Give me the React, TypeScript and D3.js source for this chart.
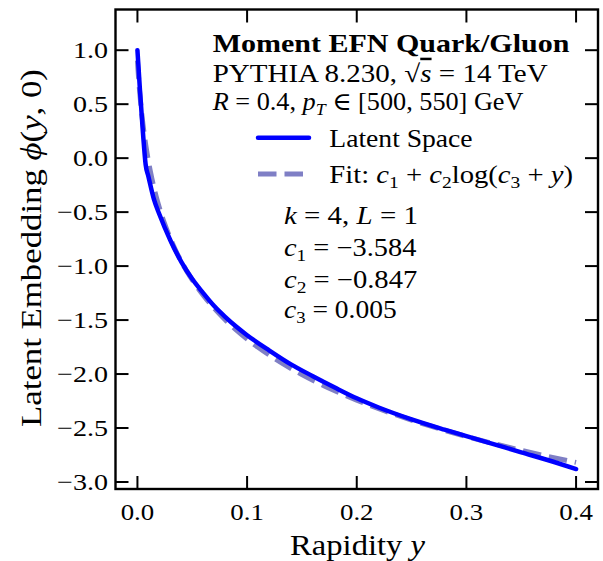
import React, { useLayoutEffect, useRef, useState } from "react";
import * as d3 from "d3";

const latentY = [0, 0.0025, 0.005, 0.0075, 0.01, 0.015, 0.02, 0.03, 0.04, 0.05, 0.06, 0.07, 0.08, 0.09, 0.1, 0.12, 0.14, 0.16, 0.18, 0.2, 0.22, 0.25, 0.28, 0.3, 0.32, 0.35, 0.38, 0.4];
const latentPhi = [1.0, 0.6, 0.24, -0.06, -0.17, -0.38, -0.52, -0.76, -0.96, -1.12, -1.25, -1.37, -1.47, -1.56, -1.64, -1.78, -1.91, -2.02, -2.125, -2.225, -2.31, -2.42, -2.515, -2.575, -2.635, -2.725, -2.815, -2.88];

const fitY = [0, 0.001, 0.0015, 0.002, 0.003, 0.004, 0.005, 0.006, 0.0075, 0.008, 0.009, 0.01, 0.011, 0.0125, 0.013, 0.015, 0.017, 0.02, 0.025, 0.03, 0.035, 0.04, 0.045, 0.05, 0.06, 0.07, 0.08, 0.09, 0.1, 0.11, 0.12, 0.13, 0.15, 0.17, 0.18, 0.2, 0.225, 0.25, 0.275, 0.3, 0.325, 0.35, 0.375, 0.4];
const fitPhi = [0.9037, 0.7492, 0.6814, 0.6186, 0.5056, 0.4058, 0.3166, 0.2358, 0.1276, 0.0942, 0.0315, -0.0269, -0.0816, -0.1574, -0.1813, -0.2706, -0.3513, -0.4595, -0.614, -0.7445, -0.8576, -0.9574, -1.0466, -1.1274, -1.2688, -1.39, -1.4961, -1.5903, -1.675, -1.7521, -1.8227, -1.8879, -2.005, -2.1077, -2.1548, -2.2418, -2.3392, -2.4266, -2.5058, -2.5783, -2.6449, -2.7068, -2.7645, -2.8184];

const xTicks = [0, 0.1, 0.2, 0.3, 0.4];
const xTickLabels = ["0.0", "0.1", "0.2", "0.3", "0.4"];
const yTicks = [1, 0.5, 0, -0.5, -1, -1.5, -2, -2.5, -3];
const yTickLabels = ["1.0", "0.5", "0.0", "\u22120.5", "\u22121.0", "\u22121.5", "\u22122.0", "\u22122.5", "\u22123.0"];

const W = 603;
const H = 561;
const L = 115.5, R = 598, T = 9.5, B = 489;
const FONT = "'Liberation Serif', 'DejaVu Serif', serif";

type FTProps = {
  x: number;
  y: number;
  width: number;
  anchor?: "start" | "middle" | "end";
  rotate?: number;
  fontSize: number;
  fontWeight?: string;
  children: React.ReactNode;
};

function FitText({ x, y, width, anchor = "start", rotate = 0, fontSize, fontWeight, children }: FTProps) {
  const ref = useRef<SVGTextElement>(null);
  const [s, setS] = useState(1);
  useLayoutEffect(() => {
    if (ref.current) {
      const w = ref.current.getBBox().width;
      if (w > 0) setS(width / w);
    }
  }, [width]);
  return (
    <g transform={`translate(${x},${y}) rotate(${rotate})`}>
      <text ref={ref} transform={`scale(${s},1)`} textAnchor={anchor} fontSize={fontSize} fontWeight={fontWeight}>
        {children}
      </text>
    </g>
  );
}

export default function App() {
  const x = d3.scaleLinear().domain([-0.02, 0.42]).range([L, R]);
  const y = d3.scaleLinear().domain([-3.065, 1.377]).range([B, T]);

  const latent = latentY.map((v, i) => [v, latentPhi[i]] as [number, number]);
  const fit = fitY.map((v, i) => [v, fitPhi[i]] as [number, number]);

  const linLatent = d3.line<[number, number]>().x(d => x(d[0])).y(d => y(d[1])).curve(d3.curveMonotoneX);
  const linFit = d3.line<[number, number]>().x(d => x(d[0])).y(d => y(d[1])).curve(d3.curveMonotoneX);

  const tickLen = 13;
  const sub = { fontSize: 17 };

  return (
    <svg width={W} height={H} style={{ position: "absolute", left: 0, top: 0, background: "#fff" }} fontFamily={FONT}>
      <rect x={0} y={0} width={W} height={H} fill="#fff" />
      <defs>
        <clipPath id="plotclip">
          <rect x={L} y={T} width={R - L} height={B - T} />
        </clipPath>
      </defs>

      <g clipPath="url(#plotclip)">
        <path d={linFit(fit) || ""} fill="none" stroke="#7f7fc5" strokeWidth={5} strokeDasharray="18.5 8" />
        <path d={linLatent(latent) || ""} fill="none" stroke="#0000ff" strokeWidth={4.5} strokeLinecap="round" strokeLinejoin="round" />
      </g>

      {/* ticks */}
      <g stroke="#000" strokeWidth={2}>
        {xTicks.map(t => (
          <g key={"xt" + t}>
            <line x1={x(t)} x2={x(t)} y1={B} y2={B - tickLen} />
            <line x1={x(t)} x2={x(t)} y1={T} y2={T + tickLen} />
          </g>
        ))}
        {yTicks.map(t => (
          <g key={"yt" + t}>
            <line x1={L} x2={L + tickLen} y1={y(t)} y2={y(t)} />
            <line x1={R} x2={R - tickLen} y1={y(t)} y2={y(t)} />
          </g>
        ))}
      </g>
      <rect x={L} y={T} width={R - L} height={B - T} fill="none" stroke="#000" strokeWidth={2.4} />

      {/* tick labels */}
      <g fontSize={24} fill="#000">
        {xTicks.map((t, i) => (
          <text key={"xl" + t} transform={`translate(${x(t)},520) scale(1.12,1)`} textAnchor="middle">{xTickLabels[i]}</text>
        ))}
        {yTicks.map((t, i) => (
          <text key={"yl" + t} transform={`translate(108,${y(t) + 8.2}) scale(1.17,1)`} textAnchor="end">{yTickLabels[i]}</text>
        ))}
      </g>

      {/* axis labels */}
      <FitText x={357.5} y={555} width={135} anchor="middle" fontSize={29}>
        Rapidity <tspan fontStyle="italic">y</tspan>
      </FitText>
      <FitText x={41} y={248} width={358} anchor="middle" rotate={-90} fontSize={29}>
        Latent Embedding <tspan fontStyle="italic">ϕ</tspan>(<tspan fontStyle="italic">y</tspan>, 0)
      </FitText>

      {/* annotations */}
      <g fill="#000">
        <FitText x={212.7} y={51.7} width={357} fontSize={25} fontWeight="bold">Moment EFN Quark/Gluon</FitText>
        <FitText x={212.7} y={81.7} width={335} fontSize={25}>
          PYTHIA 8.230, √<tspan fontStyle="italic" textDecoration="overline">s</tspan> = 14 TeV
        </FitText>
        <FitText x={212.7} y={110} width={312} fontSize={25}>
          <tspan fontStyle="italic">R</tspan> = 0.4, <tspan fontStyle="italic">p</tspan><tspan {...sub} dy={5} fontStyle="italic">T</tspan><tspan dy={-5}> ∈ [500, 550] GeV</tspan>
        </FitText>

        <line x1={258} x2={309} y1={137.7} y2={137.7} stroke="#0000ff" strokeWidth={4.5} strokeLinecap="round" />
        <line x1={258} x2={311} y1={174} y2={174} stroke="#7f7fc5" strokeWidth={5} strokeDasharray="18.5 8" />
        <FitText x={329.3} y={147} width={143.4} fontSize={25}>Latent Space</FitText>
        <FitText x={329.3} y={183.3} width={244} fontSize={25}>
          Fit: <tspan fontStyle="italic">c</tspan><tspan {...sub} dy={5}>1</tspan><tspan dy={-5}> + </tspan><tspan fontStyle="italic">c</tspan><tspan {...sub} dy={5}>2</tspan><tspan dy={-5}>log(</tspan><tspan fontStyle="italic">c</tspan><tspan {...sub} dy={5}>3</tspan><tspan dy={-5}> + </tspan><tspan fontStyle="italic">y</tspan>)
        </FitText>

        <FitText x={284} y={224} width={134} fontSize={25}>
          <tspan fontStyle="italic">k</tspan> = 4, <tspan fontStyle="italic">L</tspan> = 1
        </FitText>
        <FitText x={284} y={256} width={133} fontSize={25}>
          <tspan fontStyle="italic">c</tspan><tspan {...sub} dy={5}>1</tspan><tspan dy={-5}> = −3.584</tspan>
        </FitText>
        <FitText x={284} y={287.5} width={133.3} fontSize={25}>
          <tspan fontStyle="italic">c</tspan><tspan {...sub} dy={5}>2</tspan><tspan dy={-5}> = −0.847</tspan>
        </FitText>
        <FitText x={284} y={318} width={112.7} fontSize={25}>
          <tspan fontStyle="italic">c</tspan><tspan {...sub} dy={5}>3</tspan><tspan dy={-5}> = 0.005</tspan>
        </FitText>
      </g>
    </svg>
  );
}
